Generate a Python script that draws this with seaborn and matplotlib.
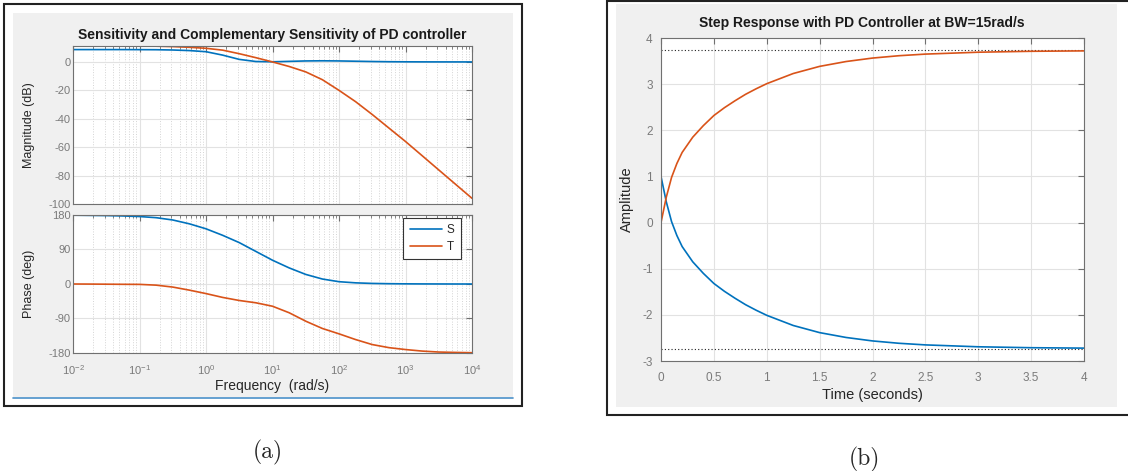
import pandas as pd
import seaborn as sns
import matplotlib.pyplot as plt
from matplotlib.patches import Rectangle
from matplotlib.lines import Line2D
from matplotlib.ticker import LogLocator, NullFormatter

sns.set_style('white')
plt.rcParams['font.family'] = ['Liberation Sans', 'DejaVu Sans']
plt.rcParams['axes.unicode_minus'] = False
plt.rcParams['mathtext.default'] = 'regular'

W, H = 1128, 471

# --- Bode data (quarter-decade steps) ---
freq = [0.01, 0.0178, 0.0316, 0.0562, 0.1, 0.178, 0.316, 0.562, 1.0, 1.78, 3.16, 5.62,
        10.0, 17.8, 31.6, 56.2, 100.0, 178.0, 316.0, 562.0, 1000.0, 1780.0, 3160.0, 5620.0, 10000.0]
s_mag = [8.7, 8.7, 8.7, 8.7, 8.65, 8.6, 8.4, 8.0, 7.2, 4.8, 1.8, 0.3,
         0.1, 0.4, 0.7, 0.8, 0.7, 0.5, 0.3, 0.15, 0.08, 0.04, 0.02, 0.01, 0.0]
t_mag = [11.4, 11.4, 11.4, 11.35, 11.3, 11.1, 10.8, 10.3, 9.6, 8.3, 5.8, 3.0,
         0.0, -3.2, -7.0, -12.5, -20.0, -28.0, -37.0, -46.5, -56.0, -66.0, -76.0, -86.0, -96.0]
s_phase = [179.5, 179.0, 178.5, 177.5, 176.0, 173.0, 167.0, 157.0, 144.0, 127.0, 108.0, 85.0,
           62.0, 42.0, 25.0, 13.0, 6.0, 3.0, 1.5, 0.8, 0.4, 0.2, 0.1, 0.0, 0.0]
t_phase = [0.0, -0.2, -0.5, -0.8, -1.0, -3.0, -8.0, -16.0, -25.0, -35.0, -43.0, -49.0,
           -58.0, -75.0, -97.0, -116.0, -130.0, -145.0, -158.0, -166.0, -171.0, -175.0, -177.5, -178.5, -179.2]
freq_ticks = [0.01, 0.1, 1, 10, 100, 1000, 10000]
freq_labels = ['$10^{-2}$', '$10^{-1}$', '$10^{0}$', '$10^{1}$', '$10^{2}$', '$10^{3}$', '$10^{4}$']

# --- step response data ---
time = [0, 0.05, 0.1, 0.15, 0.2, 0.3, 0.4, 0.5, 0.6, 0.7, 0.8, 0.9, 1.0,
        1.25, 1.5, 1.75, 2.0, 2.25, 2.5, 3.0, 3.5, 4.0]
t_step = [0.0, 0.55, 0.98, 1.28, 1.52, 1.85, 2.10, 2.32, 2.49, 2.64, 2.78, 2.90, 3.01,
          3.23, 3.385, 3.49, 3.565, 3.616, 3.651, 3.692, 3.712, 3.721]
s_step = [1.0, 0.45, 0.02, -0.28, -0.52, -0.85, -1.10, -1.32, -1.49, -1.64, -1.78, -1.90, -2.01,
          -2.23, -2.385, -2.49, -2.565, -2.616, -2.651, -2.692, -2.712, -2.721]
t_final = 3.73
s_final = -2.73
time_ticks = [0, 0.5, 1, 1.5, 2, 2.5, 3, 3.5, 4]
time_labels = ['0', '0.5', '1', '1.5', '2', '2.5', '3', '3.5', '4']

blue = '#0072BD'
orange = '#D95319'
tick_col = '#7a7a7a'
spine_col = '#707070'
label_col = '#262626'

bode = pd.DataFrame({'freq': freq, 'S_mag': s_mag, 'T_mag': t_mag,
                     'S_phase': s_phase, 'T_phase': t_phase})
step = pd.DataFrame({'time': time, 'S': s_step, 'T': t_step})


def fig_box(x0, y0, x1, y1):
    return [x0 / W, 1 - y1 / H, (x1 - x0) / W, (y1 - y0) / H]


def add_rect(fig, x0, y0, x1, y1, **kw):
    b = fig_box(x0, y0, x1, y1)
    fig.patches.append(Rectangle((b[0], b[1]), b[2], b[3], transform=fig.transFigure,
                                 zorder=-5, **kw))


def matlab_axes(ax, size):
    for sp in ax.spines.values():
        sp.set_color(spine_col)
        sp.set_linewidth(0.8)
    ax.tick_params(which='both', direction='in', top=True, right=True,
                   colors=spine_col, labelcolor=tick_col, labelsize=size)
    ax.tick_params(which='major', length=4)
    ax.tick_params(which='minor', length=2)
    ax.set_facecolor('white')


fig = plt.figure(figsize=(W / 100, H / 100), dpi=100)

# panel frames (screenshot boxes)
add_rect(fig, 4, 4, 522, 406, facecolor='white', edgecolor='#222222', lw=1.5)
add_rect(fig, 13, 13, 513, 397, facecolor='#f0f0f0', edgecolor='none')
fig.lines.append(Line2D([13 / W, 513 / W], [1 - 397.5 / H, 1 - 397.5 / H],
                        transform=fig.transFigure, color='#4a90c8', lw=1.2, zorder=-4))
add_rect(fig, 607, 0.5, 1135, 415, facecolor='white', edgecolor='#222222', lw=1.5)
add_rect(fig, 616, 4, 1117, 407, facecolor='#f0f0f0', edgecolor='none')

# --- (a) magnitude and phase ---
ax_m = fig.add_axes(fig_box(73, 45.6, 472, 204))
ax_p = fig.add_axes(fig_box(73, 215, 472, 353))
for ax in (ax_m, ax_p):
    ax.set_xscale('log')
    matlab_axes(ax, 8)
    ax.tick_params(axis='y', pad=1.5)
    ax.tick_params(axis='x', pad=7)
    ax.set_xlim(1e-2, 1e4)
    ax.set_xticks(freq_ticks)
    ax.xaxis.set_minor_locator(LogLocator(base=10, subs=range(2, 10), numticks=100))
    ax.xaxis.set_minor_formatter(NullFormatter())
    ax.grid(True, which='major', color='#e2e2e2', lw=0.8)
    ax.grid(True, which='minor', axis='x', color='#d4d4d4', lw=0.7, ls=':')

sns.lineplot(data=bode, x='freq', y='S_mag', ax=ax_m, color=blue, lw=1.2)
sns.lineplot(data=bode, x='freq', y='T_mag', ax=ax_m, color=orange, lw=1.2)
ax_m.set_ylim(-100, 11.5)
ax_m.set_yticks([-100, -80, -60, -40, -20, 0])
ax_m.set_xticklabels([])
ax_m.set_xlabel('')
ax_m.set_ylabel('Magnitude (dB)', fontsize=9, color=label_col)
ax_m.set_title('Sensitivity and Complementary Sensitivity of PD controller',
               fontsize=10, fontweight='bold', color='#1a1a1a', pad=5)

sns.lineplot(data=bode, x='freq', y='S_phase', ax=ax_p, color=blue, lw=1.2, label='S')
sns.lineplot(data=bode, x='freq', y='T_phase', ax=ax_p, color=orange, lw=1.2, label='T')
ax_p.set_ylim(-180, 180)
ax_p.set_yticks([-180, -90, 0, 90, 180])
ax_p.set_xticklabels(freq_labels)
ax_p.set_ylabel('Phase (deg)', fontsize=9, color=label_col)
ax_p.set_xlabel('Frequency  (rad/s)', fontsize=10, color=label_col, labelpad=2)
leg = ax_p.legend(loc='upper right', bbox_to_anchor=(0.972, 0.981), borderaxespad=0,
                  fancybox=False, edgecolor='#333333', fontsize=8.5,
                  handlelength=2.7, handletextpad=0.4, borderpad=0.55, labelspacing=0.4,
                  framealpha=1)
leg.get_frame().set_linewidth(0.8)
ax_m.yaxis.set_label_coords(-0.095, 0.5)
ax_p.yaxis.set_label_coords(-0.095, 0.5)

# --- (b) step response ---
ax_s = fig.add_axes(fig_box(661, 38, 1084, 361))
matlab_axes(ax_s, 8.5)
ax_s.tick_params(axis='x', pad=8)
ax_s.tick_params(axis='y', pad=6)
ax_s.grid(True, color='#e2e2e2', lw=0.8)
sns.lineplot(data=step, x='time', y='S', ax=ax_s, color=blue, lw=1.2)
sns.lineplot(data=step, x='time', y='T', ax=ax_s, color=orange, lw=1.2)
ax_s.axhline(t_final, color='#222222', lw=0.8, ls=(0, (1, 2)), zorder=1)
ax_s.axhline(s_final, color='#222222', lw=0.8, ls=(0, (1, 2)), zorder=1)
ax_s.set_xlim(0, 4)
ax_s.set_ylim(-3, 4)
ax_s.set_xticks(time_ticks)
ax_s.set_xticklabels(time_labels)
ax_s.set_yticks(range(-3, 5))
ax_s.set_xlabel('Time (seconds)', fontsize=10.5, color=label_col, labelpad=3)
ax_s.set_ylabel('Amplitude', fontsize=10.5, color=label_col)
ax_s.yaxis.set_label_coords(-0.065, 0.5)
ax_s.set_title('Step Response with PD Controller at BW=15rad/s', x=(862 - 661) / 423,
               fontsize=10, fontweight='bold', color='#1a1a1a', pad=8)

# captions
fig.text(268 / W, 1 - 452 / H, '(a)', fontfamily='cmr10', fontsize=17, ha='center', va='center')
fig.text(864 / W, 1 - 459 / H, '(b)', fontfamily='cmr10', fontsize=17, ha='center', va='center')

fig.savefig('out.png', dpi=100)
